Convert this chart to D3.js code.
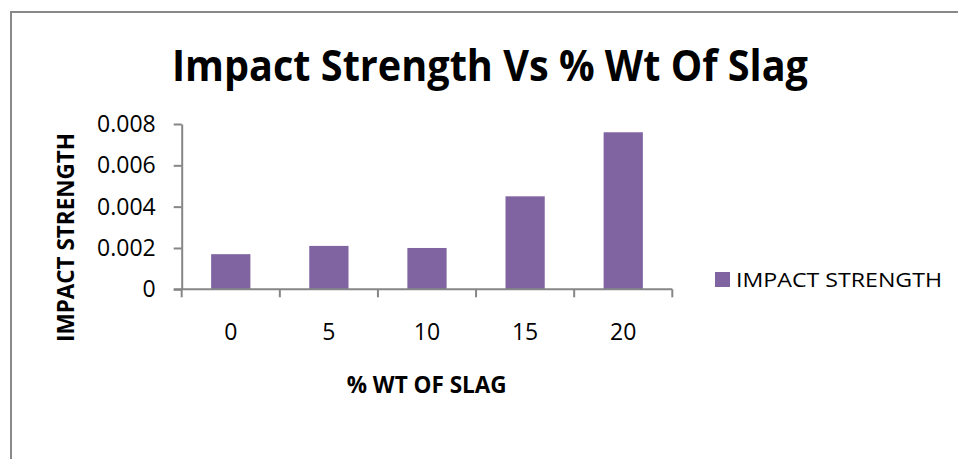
<!DOCTYPE html>
<html>
<head>
<meta charset="utf-8">
<script src="https://cdn.jsdelivr.net/npm/d3@7"></script>
<style>
  body { margin: 0; background: #fff; }
  text { font-family: "Open Sans", sans-serif; fill: #000; }
</style>
</head>
<body>
<div id="chart"></div>
<script>
const categories = ["0", "5", "10", "15", "20"];
const impactStrength = [0.0017, 0.0021, 0.0020, 0.0045, 0.0076];
const yTicks = [0, 0.002, 0.004, 0.006, 0.008];
const yTickLabels = ["0", "0.002", "0.004", "0.006", "0.008"];
const seriesName = "IMPACT STRENGTH";

const width = 958, height = 459;
const barColor = "#8064a2";
const axisColor = "#868686";

const svg = d3.select("#chart").append("svg")
  .attr("width", width)
  .attr("height", height);

// chart frame
svg.append("rect")
  .attr("x", 11).attr("y", 12)
  .attr("width", 1000).attr("height", 500)
  .attr("fill", "#fff")
  .attr("stroke", "#898989")
  .attr("stroke-width", 2);

const plot = { left: 181.7, right: 672.3, top: 124, bottom: 289.3 };

const y = d3.scaleLinear()
  .domain([0, 0.008])
  .range([plot.bottom, plot.top]);

// slots for category boundaries
const xSlot = d3.scaleBand()
  .domain(categories)
  .range([plot.left, plot.right]);

// bars (gap width 150%)
const x = d3.scaleBand()
  .domain(categories)
  .range([plot.left, plot.right])
  .paddingInner(0.6)
  .paddingOuter(0.3);

// title
svg.append("text")
  .attr("x", 490).attr("y", 81)
  .attr("text-anchor", "middle")
  .attr("font-weight", "bold")
  .attr("font-size", 43)
  .attr("textLength", 636)
  .attr("lengthAdjust", "spacingAndGlyphs")
  .text("Impact Strength Vs % Wt Of Slag");

// bars
svg.append("g")
  .selectAll("rect")
  .data(impactStrength)
  .join("rect")
  .attr("x", (d, i) => x(categories[i]))
  .attr("y", d => y(d))
  .attr("width", x.bandwidth())
  .attr("height", d => y(0) - y(d))
  .attr("fill", barColor);

// y axis
const yAxis = svg.append("g")
  .attr("transform", `translate(${plot.left},0)`)
  .call(d3.axisLeft(y)
    .tickValues(yTicks)
    .tickFormat((d, i) => yTickLabels[i])
    .tickSize(8)
    .tickSizeOuter(0)
    .tickPadding(18));
yAxis.selectAll("text")
  .attr("font-size", 23)
  .attr("font-family", "'Open Sans', sans-serif")
  .attr("fill", "#000");
yAxis.selectAll("line, path").attr("stroke", axisColor).attr("stroke-width", 2);

// x axis line
svg.append("line")
  .attr("x1", plot.left - 8).attr("x2", plot.right)
  .attr("y1", y(0)).attr("y2", y(0))
  .attr("stroke", axisColor).attr("stroke-width", 2);

// x boundary ticks
const bounds = categories.map(c => xSlot(c)).concat([xSlot(categories[categories.length - 1]) + xSlot.bandwidth()]);
svg.append("g")
  .selectAll("line")
  .data(bounds)
  .join("line")
  .attr("x1", d => d).attr("x2", d => d)
  .attr("y1", y(0)).attr("y2", y(0) + 8)
  .attr("stroke", axisColor).attr("stroke-width", 2);

// x tick labels
const xAxis = svg.append("g")
  .attr("transform", `translate(0,${y(0)})`)
  .call(d3.axisBottom(xSlot).tickSize(0).tickPadding(34));
xAxis.select("path").remove();
xAxis.selectAll("text")
  .attr("font-size", 23)
  .attr("font-family", "'Open Sans', sans-serif")
  .attr("fill", "#000");

// axis titles
svg.append("text")
  .attr("x", 426.7).attr("y", 393)
  .attr("text-anchor", "middle")
  .attr("font-weight", "bold")
  .attr("font-size", 22.5)
  .attr("textLength", 160)
  .attr("lengthAdjust", "spacingAndGlyphs")
  .text("% WT OF SLAG");

svg.append("text")
  .attr("transform", "translate(74,237.5) rotate(-90)")
  .attr("text-anchor", "middle")
  .attr("font-weight", "bold")
  .attr("font-size", 23)
  .attr("textLength", 209)
  .attr("lengthAdjust", "spacingAndGlyphs")
  .text("IMPACT STRENGTH");

// legend
const legend = svg.append("g").attr("transform", "translate(715,272)");
legend.append("rect")
  .attr("width", 15).attr("height", 15)
  .attr("fill", barColor);
legend.append("text")
  .attr("x", 21).attr("y", 14.7)
  .attr("font-size", 20.5)
  .attr("textLength", 206)
  .attr("lengthAdjust", "spacingAndGlyphs")
  .text(seriesName);
</script>
</body>
</html>
